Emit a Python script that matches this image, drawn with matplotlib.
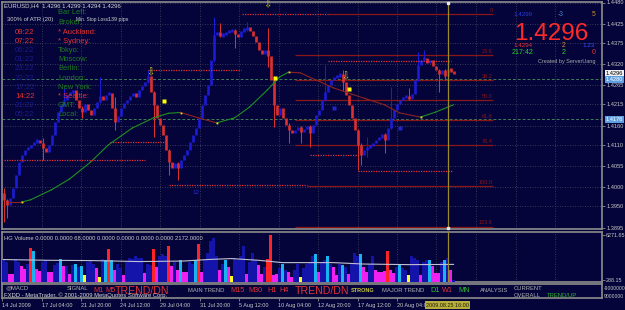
import numpy as np
import matplotlib
matplotlib.use("Agg")
import matplotlib.pyplot as plt
import matplotlib.transforms as mtrans

# ---- EURUSD H4 values ----
first_open = 1.3985
closes = [
    1.3967, 1.3954, 1.3972, 1.3998, 1.4032, 1.4065, 1.4084, 1.4097, 1.4102, 1.4110,
    1.4117, 1.4123, 1.4115, 1.4102, 1.4091, 1.4110, 1.4136, 1.4169, 1.4195, 1.4214,
    1.4227, 1.4240, 1.4245, 1.4253, 1.4227, 1.4206, 1.4195, 1.4216, 1.4201, 1.4188,
    1.4206, 1.4221, 1.4237, 1.4227, 1.4240, 1.4245, 1.4206, 1.4169, 1.4185, 1.4206,
    1.4219, 1.4227, 1.4237, 1.4245, 1.4234, 1.4253, 1.4263, 1.4273, 1.4289, 1.4247,
    1.4214, 1.4180, 1.4162, 1.4136, 1.4097, 1.4065, 1.4050, 1.4063, 1.4050, 1.4071,
    1.4084, 1.4097, 1.4117, 1.4136, 1.4154, 1.4180, 1.4214, 1.4240, 1.4266, 1.4331,
    1.4396, 1.4403, 1.4393, 1.4398, 1.4403, 1.4406, 1.4409, 1.4398, 1.4390, 1.4406,
    1.4411, 1.4416, 1.4406, 1.4393, 1.4377, 1.4357, 1.4346, 1.4357, 1.4341, 1.4279,
    1.4214, 1.4188, 1.4206, 1.4180, 1.4162, 1.4149, 1.4141, 1.4149, 1.4156, 1.4143,
    1.4151, 1.4159, 1.4141, 1.4162, 1.4188, 1.4201, 1.4227, 1.4247, 1.4266, 1.4279,
    1.4284, 1.4289, 1.4294, 1.4273, 1.4240, 1.4214, 1.4180, 1.4149, 1.4110, 1.4084,
    1.4097, 1.4104, 1.4107, 1.4115, 1.4123, 1.4128, 1.4138, 1.4123, 1.4154, 1.4180,
    1.4201, 1.4216, 1.4227, 1.4232, 1.4237, 1.4229, 1.4242, 1.4279, 1.4318, 1.4331,
    1.4336, 1.4323, 1.4331, 1.4315, 1.4304, 1.4294, 1.4304, 1.4289, 1.4307, 1.4302,
    1.4296,
]
# bars with a visible long wick
wick_bar = [0, 1, 13, 20, 26, 32, 37, 48, 50, 55, 58, 70, 72, 77, 81, 88, 90, 95, 99, 102,
            107, 113, 118, 119, 121, 127, 129, 135, 138, 140, 145, 147]
wick_high = [1.3998, 1.3970, 1.4128, 1.4258, 1.4210, 1.4286, 1.4234, 1.4305, 1.4250, 1.4100,
             1.4066, 1.4442, 1.4427, 1.4412, 1.4429, 1.4414, 1.4290, 1.4166, 1.4160, 1.4162,
             1.4318, 1.4305, 1.4152, 1.4115, 1.4130, 1.4141, 1.4260, 1.4258, 1.4351, 1.4357,
             1.4307, 1.4307]
wick_low = [1.3909, 1.3920, 1.4071, 1.4210, 1.4180, 1.4218, 1.4148, 1.4270, 1.4131, 1.4032,
            1.4019, 1.4325, 1.4390, 1.4362, 1.4405, 1.4312, 1.4156, 1.4115, 1.4115, 1.4104,
            1.4224, 1.4250, 1.4045, 1.4058, 1.4078, 1.4089, 1.4150, 1.4226, 1.4275, 1.4328,
            1.4247, 1.4279]

# slow moving average (green rising / red falling)
ma_bar = [2, 6, 9, 16, 22, 29, 35, 43, 50, 55, 59, 65, 71, 77, 82, 88, 92, 95, 99, 104,
          110, 116, 121, 127, 132, 139, 144, 150]
ma_val = [1.3961, 1.3961, 1.3967, 1.3993, 1.4021, 1.4065, 1.4110, 1.4154, 1.4180, 1.4192,
          1.4194, 1.4180, 1.4167, 1.4180, 1.4208, 1.4253, 1.4286, 1.4299, 1.4297, 1.4279,
          1.4258, 1.4242, 1.4229, 1.4214, 1.4193, 1.4182, 1.4195, 1.4214]

# dotted support / resistance levels
level_price = [1.4305, 1.4449, 1.4117, 1.4071, 1.4006, 1.4328, 1.4083, 1.4042]
level_from = [48, 79.5, 35.5, 0, 55, 108, 102, 118]
level_to = [79, 108, 53.8, 47, 101, 149, 118, 149.5]

fib_high, fib_low = 1.4450, 1.4003
fib_ratio = [0, 23.6, 38.2, 50.0, 61.8, 76.4, 100.0, 123.6]
fib_from = [108, 97, 97, 97, 97, 97, 101, 97]
fib_to = 163

hline_price = [1.4280, 1.4176]

signal_bar = [53.5, 90.5, 115]
signal_price = [1.4224, 1.4284, 1.4255]
arrow_bar = [49, 88, 114]
arrow_price = [1.4299, 1.4474, 1.4289]
mark_bar = [110, 132]
mark_price = [1.4206, 1.4154]

price_ticks = [1.4480, 1.4425, 1.4375, 1.4320, 1.4265, 1.4215, 1.4160, 1.4110,
               1.4055, 1.4000, 1.3950, 1.3895]
time_labels = ["14 Jul 2009", "17 Jul 04:00", "21 Jul 20:00", "24 Jul 12:00", "29 Jul 04:00",
               "31 Jul 20:00", "5 Aug 12:00", "10 Aug 04:00", "12 Aug 20:00", "17 Aug 12:00",
               "20 Aug 04:00"]
cursor_bar = 148
cursor_label = "2009.08.25 16:00"

# HG Volume sub-window
volumes = [
    3000, 2730, 1090, 1090, 3130, 2730, 2180, 1770, 2450, 4500,
    4090, 1770, 1500, 2730, 3000, 1360, 1360, 2320, 2590, 3130,
    2180, 2180, 1090, 2320, 2450, 2040, 2180, 950, 2730, 2860,
    2450, 1910, 680, 3130, 3000, 4360, 3000, 1640, 2450, 1910,
    950, 2730, 3270, 3130, 3410, 3270, 3270, 1230, 2450, 2320,
    4360, 2040, 3540, 3680, 3410, 4770, 2180, 2730, 1640, 3000,
    1360, 1360, 2730, 2450, 3000, 5040, 1360, 3000, 3820, 5450,
    5860, 3410, 1640, 2450, 3000, 2040, 820, 3270, 3000, 3540,
    4770, 1090, 2730, 3820, 3000, 2320, 1090, 2040, 3130, 6271.65,
    950, 1090, 1910, 2450, 1640, 1360, 680, 1640, 2450, 680,
    1910, 2450, 2730, 3540, 3680, 1360, 2730, 3000, 3410, 2450,
    2040, 950, 2450, 2320, 2040, 1090, 2450, 3820, 3540, 3680,
    2040, 1360, 2450, 3410, 1640, 1360, 1360, 1500, 4090, 1640,
    1230, 2040, 2450, 1910, 1640, 950, 3410, 3270, 3000, 950,
    2730, 3000, 3000, 2180, 1230, 1230, 2730, 3000, 3270, 1640, 288.15,
]
vol_kind = ("nnmmnnmmnr" "cmmnnmmnnc" "mnmncncynn" "nmyncrcmnn" "mnnnnnnmnn"
            "rmnnnrmnmc" "mmnncrmnnn" "nnmncmynnn" "nmnnnmmnrr" "mmncnmmnny"
            "nnnncmnncn" "mmncnmnnnc" "mmnnmmmmrm" "mncnnynnnm" "nncmmmncnmn")
vma_bar = [0, 15, 30, 45, 60, 68, 76, 85, 93, 110, 120, 135, 150]
vma_val = [3000, 2900, 2860, 2730, 2800, 3000, 3130, 2900, 2590, 2590, 2400, 2320, 2350]

city_names = ["* Auckland:", "* Sydney:", "Tokyo:", "Moscow:", "Berlin:", "London:",
              "New York:", "* Seattle:", "GMT:", "Local:"]
city_times = ["09:22", "07:22", "06:22", "01:22", "23:22", "22:22", "17:22", "14:22",
              "21:22", "05:22"]
city_open = [True, True, False, False, False, False, False, True, False, False]

# ---- styling ----
BG = "#04043a"
GRID = "#4a4a66"
AXC = "#8c8c8c"
TXT = "#c8c8c8"
UP = "#1c1cd4"
DN = "#dc3030"
RED = "#e63232"
GREEN = "#1e7e1e"
FIB = "#8a1616"

plt.rcParams['font.family'] = ['Liberation Sans', 'DejaVu Sans']

W, H = 625, 310
fig = plt.figure(figsize=(W / 100, H / 100), dpi=100, facecolor=BG)


def fx(x):
    return x / W


def fy(y):
    return 1 - y / H


def panel(top, bottom):
    a = fig.add_axes([fx(2), fy(bottom), fx(602) - fx(2), (bottom - top) / H])
    a.set_facecolor(BG)
    for s in a.spines.values():
        s.set_color(AXC)
        s.set_linewidth(1.2)
    a.set_xlim(-0.5, 199.5)
    return a


def t(x, y, s, color, size, **kw):
    fig.text(fx(x), fy(y), s, color=color, fontsize=size, va='center', ha='left', **kw)


ax = panel(2, 229)
vax = panel(232, 282)
tax = panel(284, 298)

tick_step = 39.5 / 3
grid_x = np.arange(15) * tick_step - 0.5
time_x = grid_x[:len(time_labels)]

# main chart
ax.set_ylim(1.38911, 1.44813)
ax.set_yticks(price_ticks)
ax.set_yticklabels([f"{p:.4f}" for p in price_ticks])
ax.yaxis.tick_right()
ax.tick_params(axis='y', length=2, width=0.6, color=AXC, labelcolor=TXT, labelsize=4.1, pad=1)
ax.set_xticks(grid_x)
ax.tick_params(axis='x', length=0, labelbottom=False)
ax.grid(True, color=GRID, lw=0.6, ls=(0, (1, 2)))
ax.set_axisbelow(True)

cl = np.array(closes)
op = np.array([first_open] + closes[:-1])
idx = np.arange(len(cl))
colors = np.where(cl >= op, UP, DN)
lo = np.minimum(op, cl)
hi = np.maximum(op, cl)
grow = np.clip(0.0008 - (hi - lo), 0, None) / 2
ax.vlines(idx, lo - grow, hi + grow, colors=colors, lw=1.9, zorder=3)
ax.vlines(wick_bar, wick_low, wick_high, colors=colors[wick_bar], lw=0.75, zorder=3)

for k in range(len(ma_bar) - 1):
    c = "#1f8f1f" if ma_val[k + 1] > ma_val[k] else "#8b2222"
    ax.plot(ma_bar[k:k + 2], ma_val[k:k + 2], color=c, lw=0.8, zorder=4)
for k in range(1, len(ma_bar) - 1):
    if (ma_val[k] - ma_val[k - 1]) * (ma_val[k + 1] - ma_val[k]) < 0 or ma_val[k] == ma_val[k - 1]:
        ax.plot(ma_bar[k], ma_val[k], 's', ms=1.3, color="#e8e020", mec='none', zorder=5)

for p in hline_price:
    ax.axhline(p, color="#3f7d55", lw=0.7, ls=(0, (3, 2)), zorder=2)

span = fib_high - fib_low
for r, x0 in zip(fib_ratio, fib_from):
    p = fib_high - r / 100 * span
    ax.hlines(p, x0, fib_to, color=FIB, lw=0.9, zorder=2)
    ax.annotate(f"{r:.1f}" if r else "0", xy=(fib_to, p), xytext=(0, 0.8),
                textcoords='offset points', ha='right', va='bottom', fontsize=4, color=FIB)

ax.hlines(level_price, level_from, level_to, colors="#e83232", lw=0.9, ls=(0, (1, 1)), zorder=5)

ax.plot(signal_bar, signal_price, 's', ms=2.6, color="#ffff00", mec='none', zorder=6)
ax.plot(mark_bar, mark_price, 's', ms=2.2, color="#2424c8", mec='none', zorder=6)
for b, p in zip(arrow_bar, arrow_price):
    ax.text(b, p, "\u21e9", color="#d8c81c", fontsize=7, ha='center', va='center',
            family='DejaVu Sans', zorder=7)
ax.text(64, 1.3987, "12", color="#2a2ad0", fontsize=4.5, ha='center', va='center', zorder=6)

for a in (ax, vax):
    a.axvline(cursor_bar, color="#9a8a2a", lw=0.9, zorder=8)
blend = mtrans.blended_transform_factory(ax.transData, ax.transAxes)
ax.plot([cursor_bar, cursor_bar], [0.995, 0.005], 's', ms=2, color="#e8e8e8",
        transform=blend, clip_on=False, zorder=9)


def price_box(p, txt, fc, tc):
    ax.annotate(txt, xy=(1, p), xycoords=('axes fraction', 'data'), xytext=(2.6, 0),
                textcoords='offset points', ha='left', va='center', fontsize=4.1, color=tc,
                bbox=dict(boxstyle='square,pad=0.18', fc=fc, ec='none'),
                annotation_clip=False, zorder=10)


price_box(1.4296, "1.4296", "#f0f0f0", "#000000")
price_box(1.4280, "1.4280", "#5f9fe0", "#ffffff")
price_box(1.4176, "1.4176", "#5f9fe0", "#ffffff")

# volume window
vcol = {'n': "#1414aa", 'm': "#f020f0", 'c': "#18b4f0", 'r': "#ff2424", 'y': "#ffff28"}
vax.bar(idx, volumes, width=0.8, color=[vcol[k] for k in vol_kind], zorder=3)
vax.plot(vma_bar, vma_val, color="#c0c0d4", lw=0.8, zorder=4)
vax.set_ylim(0, 6680)
vax.set_yticks([288.15, 6271.65])
vax.set_yticklabels(["288.15", "6271.65"])
vax.yaxis.tick_right()
vax.tick_params(axis='y', length=2, width=0.6, color=AXC, labelcolor=TXT, labelsize=3.9, pad=1)
vax.set_xticks(grid_x)
vax.tick_params(axis='x', length=0, labelbottom=False)
vax.grid(True, axis='x', color=GRID, lw=0.6, ls=(0, (1, 2)))
vax.set_axisbelow(True)
t(4, 238.5, "HG Volume 0.0000 0.0000 68.0000 0.0000 0.0000 0.0000 0.0000 2172.0000", TXT, 4.2)

# trend window + time axis
tax.set_ylim(0, 1)
tax.set_yticks([])
tax.set_xticks(time_x)
tax.set_xticklabels(time_labels)
for lbl in tax.get_xticklabels():
    lbl.set_ha('left')
tax.tick_params(axis='x', length=2, width=0.6, color=AXC, labelcolor=TXT, labelsize=4.0, pad=1.5)
tax.annotate(cursor_label, xy=(cursor_bar, 0), xycoords=('data', 'axes fraction'),
             xytext=(0, -5.2), textcoords='offset points', ha='center', va='center',
             fontsize=4.0, color="#202010",
             bbox=dict(boxstyle='square,pad=0.25', fc="#b8ae3a", ec='none'),
             annotation_clip=False, zorder=10)

t(5, 288, "@MACD", "#b0b0b0", 4.2)
t(67, 289, "SIGNAL", "#b0b0b0", 4.2)
t(93, 290, "M1", RED, 5.2)
t(105, 290, "M5", RED, 5.2)
t(115, 291, "TREND/DN", RED, 7.6)
t(188, 290, "MAIN TREND", "#b0b0b0", 4.2)
t(230, 290, "M15", RED, 5.2)
t(248, 290, "M30", RED, 5.2)
t(267, 290, "H1", RED, 5.2)
t(279, 290, "H4", RED, 5.2)
t(295, 291, "TREND/DN", RED, 7.6)
t(351, 290, "STRONG", "#c8c83c", 4.0, fontweight='bold')
t(382, 290, "MAJOR TREND", "#b0b0b0", 4.2)
t(430, 290, "D1", "#30c030", 5.2)
t(442, 290, "W1", RED, 5.2)
t(458, 290, "MN", "#30c030", 5.2)
t(480, 290, "ANALYSIS", "#b0b0b0", 4.2)
t(514, 288.5, "CURRENT", "#b0b0b0", 4.2)
t(514, 295.5, "OVERALL", "#b0b0b0", 4.2)
t(547, 295.5, "TREND/UP", "#30b030", 4.2)
t(4, 295, "FXDD - MetaTrader, \u00a9 2001-2009 MetaQuotes Software Corp.", "#d8d8d8", 4.2)
t(604, 289, "-9000000", TXT, 3.6)
t(604, 296, "9000000", TXT, 3.6)

# top-left labels
t(4, 6, "EURUSD,H4  1.4296 1.4299 1.4294 1.4296", "#d8d8d8", 4.3)
t(58, 13, "Bar Left:", GREEN, 5.4)
t(58, 23, "Broker:", GREEN, 5.4)
t(7, 20, "300% of ATR (20)", "#d0d0d0", 4.2)
t(76, 20, "Min. Stop Loss:", "#d0d0d0", 3.4)
t(108, 20, "139 pips", "#d0d0d0", 3.8)
for k, (name, tm, is_open) in enumerate(zip(city_names, city_times, city_open)):
    y = 32 + 9.2 * k
    t(58, y, name, RED if is_open else GREEN, 5.4)
    t(15, y, tm, RED if is_open else "#1a1a8c", 5.6)

# top-right info panel
t(513, 15, "1.4299", "#2a3cd8", 4.5)
t(558, 15, "-3", "#4a86c8", 4.8)
t(592, 15, "5", "#d08a28", 4.8)
fig.text(fx(514), fy(40.5), "1.4296", color="#ff2a2a", fontsize=17.5, ha='left', va='baseline')
t(513, 45.5, "1.4294", RED, 4.5)
t(562, 45.5, "2", "#e08830", 4.8)
t(582, 45.5, "1.23", "#3050ff", 4.5)
t(512, 53, "217:42", "#28d028", 5.1)
t(562, 53, "2", "#28d028", 5.1)
t(592, 53, "0", RED, 5.1)
t(538, 61.5, "Created by ServerUang", "#a8a8a8", 4.0)

fig.savefig("out.png", dpi=100, facecolor=BG)
